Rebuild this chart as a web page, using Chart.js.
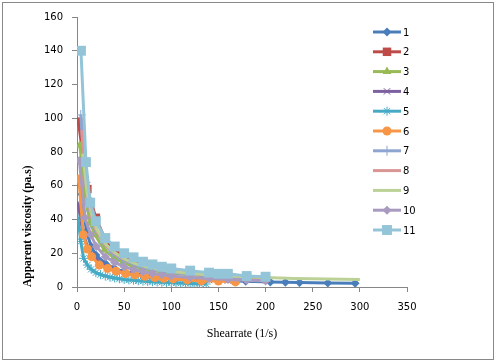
<!DOCTYPE html>
<html>
<head>
<meta charset="utf-8">
<script src="https://cdn.jsdelivr.net/npm/chart.js@4.4.1/dist/chart.umd.min.js"></script>
<style>
  html, body { margin: 0; padding: 0; background: #fff; }
  #wrap { width: 496px; height: 362px; }
</style>
</head>
<body>
<div id="wrap"><canvas id="visc" width="496" height="362"></canvas></div>
<script>
// shear rate (1/s) and apparent viscosity (pa.s)
const rate1 = [5, 10, 15, 20, 30, 40, 50, 60, 75, 90, 105, 120, 150, 179, 205, 221, 236, 266, 295];
const visc1 = [55, 33, 24, 19, 14, 11, 9, 8, 6.8, 5.8, 5, 4.5, 3.9, 3.4, 3.0, 2.8, 2.6, 2.4, 2.2];
const rate2 = [1.5, 11, 20, 30, 40, 50, 60, 70, 80, 90, 100, 120, 140, 160, 180, 200];
const visc2 = [98, 58, 41, 28, 22, 18, 15, 13, 11.5, 10.5, 9.5, 8, 7, 6.2, 5.5, 5];
const rate3 = [3, 9, 14, 19, 29, 39, 49, 59, 69, 79, 89, 99, 120, 140, 160, 180, 200];
const visc3 = [84, 52, 38, 31, 22, 17.5, 14.5, 12.5, 11, 10, 9, 8.3, 7.2, 6.5, 6, 5.6, 5.3];
const rate4 = [1, 6, 11, 16, 25, 35, 45, 55, 65, 75, 85, 100, 120, 140, 160];
const visc4 = [50, 33, 24, 19, 14, 11, 9, 8, 7, 6.3, 5.8, 5.2, 4.6, 4.2, 3.8];
const rate5 = [1, 4, 7, 11, 15, 20, 25, 30, 35, 40, 45, 50, 55, 60, 65, 70, 75, 80, 85, 90, 95, 100, 105, 110, 115, 120, 125, 130, 137];
const visc5 = [41, 27, 17, 13, 10.5, 8.5, 7.3, 6.5, 5.8, 5.3, 4.9, 4.5, 4.2, 4, 3.7, 3.5, 3.3, 3.1, 3, 2.8, 2.7, 2.6, 2.4, 2.3, 2.2, 2.1, 2, 1.9, 1.8];
const rate6 = [2, 6.7, 11, 15.5, 23.7, 32.5, 41.4, 51.6, 61.5, 72, 82.6, 92, 102, 117, 132, 150, 168];
const visc6 = [64, 31, 22.5, 18, 13, 11, 9.4, 8, 7.2, 6.4, 5.6, 5.2, 4.8, 4.2, 3.6, 3.5, 3];
const rate7 = [4, 9, 14, 19, 28, 38, 48, 58, 68, 78, 88, 98, 118, 138, 158, 178, 198];
const visc7 = [102, 62, 45, 35, 26, 20, 16.5, 14, 12, 10.8, 9.7, 8.8, 7.5, 6.6, 5.9, 5.4, 5];
const rate8 = [5, 10, 15, 20, 30, 40, 50, 60, 70, 80, 90, 100, 120, 140, 160, 180, 200];
const visc8 = [93, 58, 42, 34, 25, 20, 16.5, 14.2, 12.5, 11.2, 10.2, 9.3, 8, 7, 6.3, 5.8, 5.3];
const rate9 = [6, 11, 16, 21, 31, 41, 51, 61, 71, 81, 91, 101, 121, 141, 161, 181, 201, 230, 265, 300];
const visc9 = [79, 55, 42, 34, 25, 20, 16.5, 14, 12.3, 11, 10, 9.2, 8, 7.1, 6.5, 6, 5.6, 5.1, 4.8, 4.5];
const rate10 = [2.5, 8.5, 14.5, 20.5, 30, 40, 50, 60, 70, 80, 90, 100, 120, 140, 160, 180, 200];
const visc10 = [75, 41, 31, 24, 18, 14.5, 12, 10.3, 9, 8, 7.2, 6.5, 5.6, 5, 4.5, 4, 3.6];
const rate11 = [4.2, 9.5, 14, 20, 30, 40, 50, 60, 70, 80, 90, 100, 120, 140, 150, 160, 180, 200];
const visc11 = [140, 74, 50, 39, 29, 24, 20, 17.6, 15, 13.4, 12, 11, 9.7, 8.5, 7.8, 7.8, 6.5, 6.1];

const seriesNames = ['1', '2', '3', '4', '5', '6', '7', '8', '9', '10', '11'];
const xTicks = [0, 50, 100, 150, 200, 250, 300, 350];
const yTicks = [0, 20, 40, 60, 80, 100, 120, 140, 160];

const rates = [rate1, rate2, rate3, rate4, rate5, rate6, rate7, rate8, rate9, rate10, rate11];
const viscs = [visc1, visc2, visc3, visc4, visc5, visc6, visc7, visc8, visc9, visc10, visc11];

const colors = ['#4A7EBB', '#BE4B48', '#98B954', '#7D60A0', '#46AAC5', '#F79646',
                '#8EA5D1', '#D99694', '#BBD196', '#A99BC0', '#93C4D7'];
const markers = ['rectRot', 'rect', 'triangle', 'crossRot', 'star', 'circle', 'cross', false, false, 'rectRot', 'rect'];
const radii = [4.5, 6, 5, 4.5, 4.5, 4.5, 5, 0, 0, 4.5, 7];

const datasets = rates.map((r, i) => ({
    label: seriesNames[i],
    data: r.map((x, j) => ({x: x, y: viscs[i][j]})),
    showLine: true,
    borderColor: colors[i],
    backgroundColor: colors[i],
    borderWidth: 3,
    pointStyle: markers[i],
    pointRadius: radii[i],
    pointBorderWidth: (markers[i] === 'cross' || markers[i] === 'crossRot' || markers[i] === 'star') ? 1 : 0,
    pointBorderColor: colors[i],
    pointHoverRadius: radii[i],
    tension: 0,
    order: 11 - i
}));

// white page, grey frame, excel style legend
const framePlugin = {
    id: 'frame',
    beforeDraw(chart) {
        const ctx = chart.ctx;
        ctx.save();
        ctx.fillStyle = '#fff';
        ctx.fillRect(0, 0, chart.width, chart.height);
        ctx.strokeStyle = '#888';
        ctx.lineWidth = 1;
        ctx.strokeRect(2.5, 2.5, 491, 357);
        ctx.restore();
    },
    afterDraw(chart) {
        const ctx = chart.ctx;
        ctx.save();
        chart.data.datasets.forEach((ds, i) => {
            const y = 32 + i * 19.8;
            ctx.strokeStyle = ds.borderColor;
            ctx.lineWidth = 3;
            ctx.beginPath();
            ctx.moveTo(373, y);
            ctx.lineTo(401, y);
            ctx.stroke();
            if (ds.pointStyle) {
                ctx.fillStyle = ds.backgroundColor;
                ctx.strokeStyle = ds.borderColor;
                ctx.lineWidth = ds.pointBorderWidth;
                Chart.helpers.drawPoint(ctx, {
                    pointStyle: ds.pointStyle,
                    radius: ds.pointRadius,
                    rotation: 0,
                    borderWidth: ds.pointBorderWidth
                }, 387, y);
            }
            ctx.fillStyle = '#000';
            ctx.font = '10px "DejaVu Sans"';
            ctx.textBaseline = 'middle';
            ctx.textAlign = 'left';
            ctx.fillText(ds.label, 403, y + 1);
        });
        ctx.restore();
    }
};

new Chart(document.getElementById('visc'), {
    type: 'scatter',
    data: {datasets: datasets},
    plugins: [framePlugin],
    options: {
        responsive: false,
        animation: false,
        devicePixelRatio: 1,
        layout: {padding: {left: 0, right: 89, top: 17, bottom: 0}},
        plugins: {legend: {display: false}, tooltip: {enabled: false}},
        scales: {
            x: {
                type: 'linear',
                min: 0,
                max: 350,
                afterBuildTicks(scale) { scale.ticks = xTicks.map(v => ({value: v})); },
                afterFit(scale) { scale.height = 75; },
                grid: {drawOnChartArea: false, drawTicks: true, tickLength: 5, color: '#868686'},
                border: {color: '#868686', width: 1},
                ticks: {color: '#000', padding: 9, font: {family: 'DejaVu Sans', size: 10}, maxRotation: 0},
                title: {
                    display: true,
                    text: 'Shearrate (1/s)',
                    color: '#000',
                    font: {family: 'Liberation Serif', size: 12},
                    padding: {top: 0, bottom: 21}
                }
            },
            y: {
                min: 0,
                max: 160,
                afterBuildTicks(scale) { scale.ticks = yTicks.map(v => ({value: v})); },
                afterFit(scale) { scale.width = 77; },
                grid: {drawOnChartArea: false, drawTicks: true, tickLength: 5, color: '#868686'},
                border: {color: '#868686', width: 1},
                ticks: {color: '#000', padding: 9, font: {family: 'DejaVu Sans', size: 10}},
                title: {
                    display: true,
                    text: 'Apparent viscosity (pa.s)',
                    align: 'start',
                    color: '#000',
                    font: {family: 'Liberation Serif', size: 11.5, weight: 'bold'},
                    padding: {top: 21, bottom: 0}
                }
            }
        }
    }
});
</script>
</body>
</html>
